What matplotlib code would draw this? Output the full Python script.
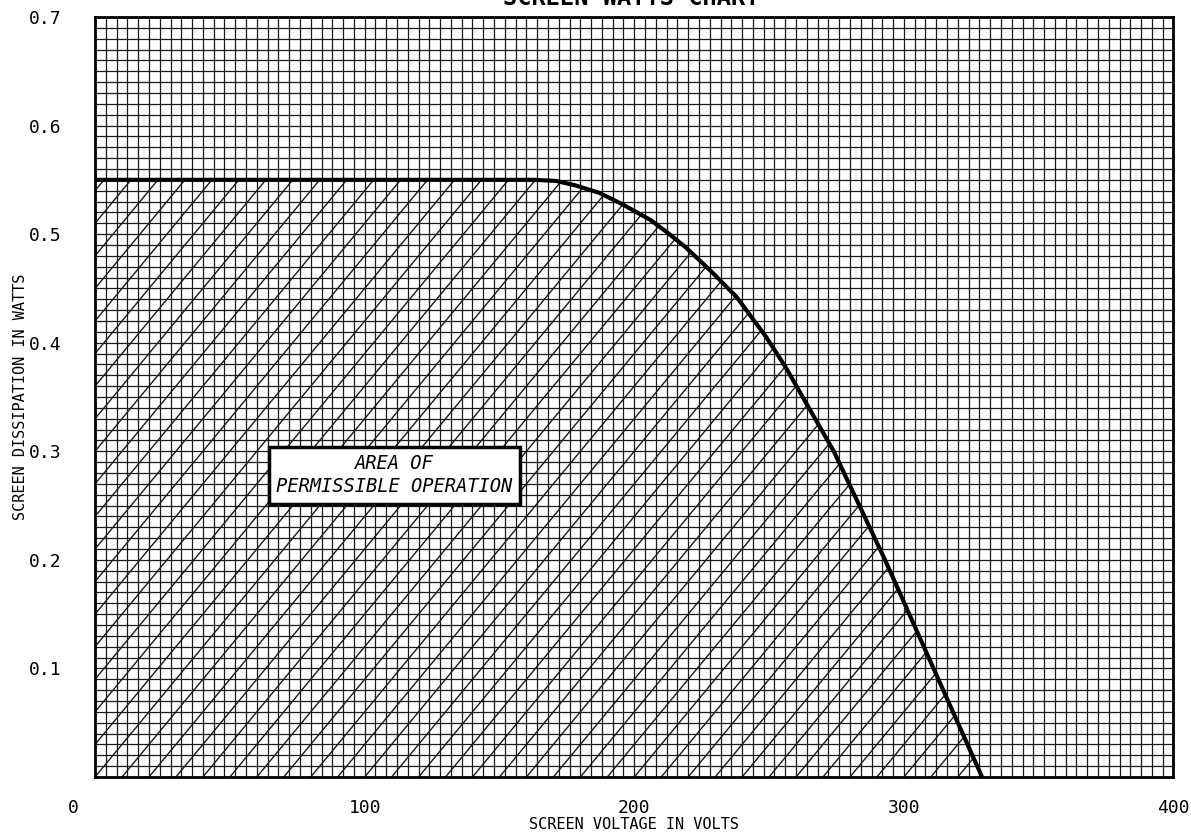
"""
Screen dissipation rating chart (area of permissible operation)
"""

import numpy as np
from matplotlib import pyplot as plt
from matplotlib.patches import Polygon
from matplotlib.transforms import ScaledTranslation

# rating curve
volts = [0, 163, 171, 178, 187, 196, 206, 212, 219, 228, 238, 249, 256,
         274, 293, 311, 329]
watts = [0.55, 0.55, 0.549, 0.545, 0.538, 0.527, 0.513, 0.502, 0.488,
         0.467, 0.442, 0.405, 0.378, 0.30, 0.20, 0.10, 0.0]

x_ticks = [0, 100, 200, 300, 400]
x_labels = ['0', '100', '200', '300', '400']
y_ticks = [0.1, 0.2, 0.3, 0.4, 0.5, 0.6, 0.7]
y_labels = ['0.1', '0.2', '0.3', '0.4', '0.5', '0.6', '0.7']

# graph paper: 4 V by 0.01 W cells, hatching every 10 V
x_cell = 4
y_cell = 0.01
hatch_step = 10
hatch_slope = 0.003

MONO = 'DejaVu Sans Mono'


def draw_chart():
    """
    Draw the screen watts chart and save it as out.png
    """
    fig = plt.figure(figsize=(11.91, 8.32), dpi=100)
    ax = fig.add_axes([0.0798, 0.0661, 0.9055, 0.9135])
    ax.set_xlim(0, 400)
    ax.set_ylim(0, 0.7)

    # graph paper grid
    ax.set_xticks(np.arange(0, 400 + x_cell / 2, x_cell), minor=True)
    ax.set_yticks(np.arange(0, 0.7 + y_cell / 2, y_cell), minor=True)
    ax.grid(which='minor', color='#1a1a1a', linewidth=0.9)
    ax.grid(which='major', color='#1a1a1a', linewidth=0.9)
    ax.tick_params(which='both', length=0)
    for spine in ax.spines.values():
        spine.set_linewidth(2.0)

    ax.set_xticks(x_ticks)
    ax.set_xticklabels(x_labels, family=MONO, fontsize=13)
    ax.set_yticks(y_ticks)
    ax.set_yticklabels(y_labels, family=MONO, fontsize=13)
    ax.tick_params(axis='x', pad=16)
    ax.tick_params(axis='y', pad=24)
    # the "0" sits a little left of the axis corner
    first = ax.get_xticklabels()[0]
    first.set_transform(first.get_transform()
                        + ScaledTranslation(-0.22, 0, fig.dpi_scale_trans))

    ax.set_xlabel('SCREEN VOLTAGE IN VOLTS', family=MONO, fontsize=11)
    ax.set_ylabel('SCREEN DISSIPATION IN WATTS', family=MONO, fontsize=11)
    ax.xaxis.set_label_coords(0.5, -0.052)
    ax.yaxis.set_label_coords(-0.062, 0.5)

    # hatched permissible area under the curve
    region = Polygon(list(zip(volts, watts)) + [(0, 0)], closed=True,
                     facecolor='none', edgecolor='none')
    ax.add_patch(region)
    for x0 in np.arange(-240, 340, hatch_step):
        xs = np.array([x0, x0 + 0.7 / hatch_slope])
        line, = ax.plot(xs, hatch_slope * (xs - x0), color='#1a1a1a',
                        linewidth=1.0)
        line.set_clip_path(region)

    ax.plot(volts, watts, color='black', linewidth=3.0,
            solid_capstyle='butt', solid_joinstyle='round')

    ax.text(111, 0.278, 'AREA OF\nPERMISSIBLE OPERATION', style='italic',
            family=MONO, fontsize=13.5, ha='center', va='center',
            linespacing=1.25,
            bbox=dict(boxstyle='square,pad=0.4', facecolor='white',
                      edgecolor='black', linewidth=2.5))

    # title, cropped off at the top of the scan
    fig.text(0.53, 1.002, 'SCREEN WATTS CHART', family=MONO,
             fontweight='bold', fontsize=17, ha='center', va='center')

    fig.savefig('out.png', dpi=100)


if __name__ == '__main__':
    draw_chart()
